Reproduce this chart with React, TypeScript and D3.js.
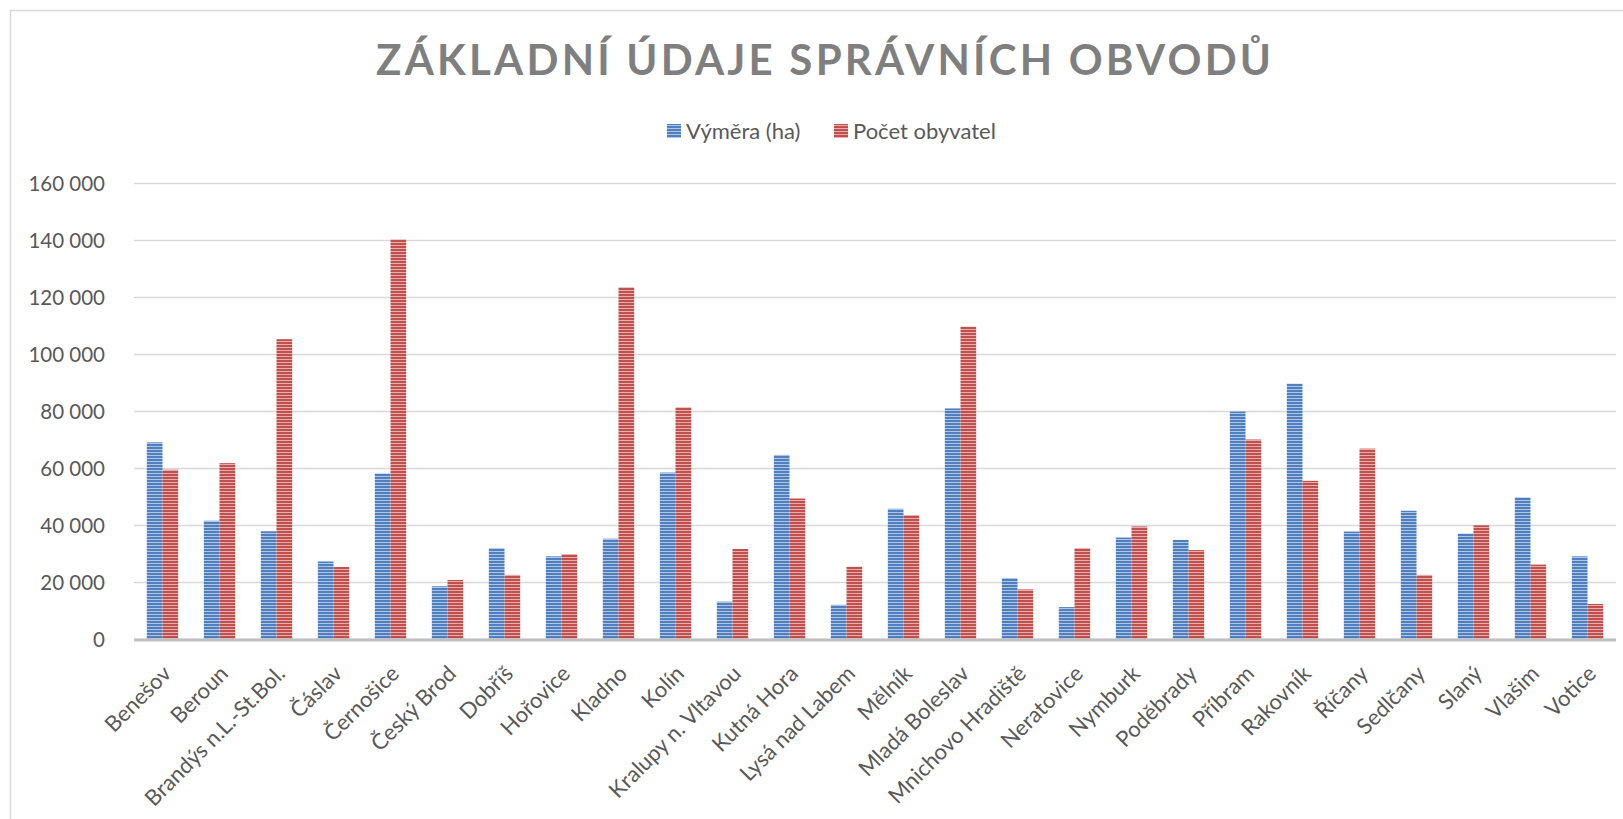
import React, { useRef, useEffect } from 'react';
import { select, scaleBand, scaleLinear, axisLeft, formatLocale } from 'd3';

const districts = [
  'Benešov', 'Beroun', 'Brandýs n.L.-St.Bol.', 'Čáslav', 'Černošice', 'Český Brod',
  'Dobříš', 'Hořovice', 'Kladno', 'Kolín', 'Kralupy n. Vltavou', 'Kutná Hora',
  'Lysá nad Labem', 'Mělník', 'Mladá Boleslav', 'Mnichovo Hradiště', 'Neratovice',
  'Nymburk', 'Poděbrady', 'Příbram', 'Rakovník', 'Říčany', 'Sedlčany', 'Slaný',
  'Vlašim', 'Votice',
];

const vymera = [
  69000, 41500, 37800, 27200, 58100, 18500, 31900, 29000, 35200, 58400, 13100, 64600,
  12000, 45700, 80900, 21400, 11200, 35600, 34800, 79800, 89600, 37700, 45000, 37000,
  49700, 29000,
];

const obyvatel = [
  59400, 61700, 105200, 25300, 140200, 20700, 22500, 29800, 123400, 81300, 31600, 49300,
  25400, 43500, 109600, 17400, 31900, 39500, 31200, 70000, 55500, 66800, 22500, 39900,
  26100, 12300,
];

const yTicks = [0, 20000, 40000, 60000, 80000, 100000, 120000, 140000, 160000];

const seriesNames = ['Výměra (ha)', 'Počet obyvatel'];

const W = 1623;
const H = 819;
const left = 134;
const right = 1616;
const top = 183;
const bottom = 639;
const font = 'Lato, "Open Sans", sans-serif';
const textColor = '#595959';

const fmt = formatLocale({ decimal: ',', thousands: ' ', grouping: [3], currency: ['', ''] }).format(',d');

export default function App() {
  const svgRef = useRef<SVGSVGElement>(null);

  useEffect(() => {
    const svg = select(svgRef.current);
    svg.selectAll('*').remove();

    const defs = svg.append('defs');
    const pats = [
      { id: 'pBlue', dark: '#4f7fbe', light: '#aec6e6' },
      { id: 'pRed', dark: '#c0504d', light: '#e8adab' },
    ];
    pats.forEach(p => {
      const pat = defs.append('pattern')
        .attr('id', p.id)
        .attr('patternUnits', 'userSpaceOnUse')
        .attr('width', 6)
        .attr('height', 3);
      pat.append('rect').attr('width', 6).attr('height', 3).attr('fill', p.dark);
      pat.append('rect').attr('y', 2).attr('width', 6).attr('height', 1).attr('fill', p.light);
    });

    // frame
    svg.append('rect')
      .attr('x', 10.5).attr('y', 10.5)
      .attr('width', W + 20).attr('height', H + 20)
      .attr('fill', 'white')
      .attr('stroke', '#d9d9d9')
      .attr('stroke-width', 1.5);

    // title
    svg.append('text')
      .attr('x', 376).attr('y', 75)
      .attr('textLength', 895)
      .attr('lengthAdjust', 'spacing')
      .attr('font-family', font)
      .attr('font-weight', 700)
      .attr('font-size', 42)
      .attr('fill', '#7f7f7f')
      .text('ZÁKLADNÍ ÚDAJE SPRÁVNÍCH OBVODŮ');

    // legend
    const legendX = [667, 834];
    seriesNames.forEach((name, i) => {
      svg.append('rect')
        .attr('x', legendX[i]).attr('y', 124)
        .attr('width', 14).attr('height', 14)
        .attr('fill', i === 0 ? 'url(#pBlue)' : 'url(#pRed)');
      svg.append('text')
        .attr('x', legendX[i] + 19).attr('y', 139)
        .attr('font-family', font)
        .attr('font-size', 22)
        .attr('fill', textColor)
        .text(name);
    });

    const x = scaleBand<string>()
      .domain(districts)
      .range([left, right])
      .paddingInner(0.45)
      .paddingOuter(0.225);

    const xs = scaleBand<number>()
      .domain([0, 1])
      .range([0, x.bandwidth()]);

    const y = scaleLinear().domain([0, 160000]).range([bottom, top]);

    // grid + y labels
    const yAxis = axisLeft(y)
      .tickValues(yTicks)
      .tickFormat(d => fmt(d as number))
      .tickSize(-(right - left))
      .tickPadding(29);

    const ga = svg.append('g')
      .attr('transform', `translate(${left},0)`)
      .call(yAxis);
    ga.select('.domain').remove();
    ga.selectAll('.tick line')
      .attr('stroke', '#d9d9d9')
      .attr('stroke-width', 1.5);
    ga.selectAll('.tick text')
      .attr('font-family', font)
      .attr('font-size', 20.5)
      .attr('fill', textColor)
      .attr('dy', '0.35em');

    // bars
    const series = [vymera, obyvatel];
    series.forEach((vals, s) => {
      svg.append('g')
        .selectAll('rect')
        .data(districts)
        .join('rect')
        .attr('x', d => (x(d) as number) + (xs(s) as number))
        .attr('y', (d, i) => y(vals[i]))
        .attr('width', xs.bandwidth())
        .attr('height', (d, i) => bottom - y(vals[i]))
        .attr('fill', s === 0 ? 'url(#pBlue)' : 'url(#pRed)');
    });

    // x axis line
    svg.append('line')
      .attr('x1', left).attr('x2', right)
      .attr('y1', bottom + 1).attr('y2', bottom + 1)
      .attr('stroke', '#bfbfbf')
      .attr('stroke-width', 3);

    // category labels
    svg.append('g')
      .selectAll('text')
      .data(districts)
      .join('text')
      .attr('transform', d => `translate(${(x(d) as number) + x.bandwidth() / 2 + 10},${bottom + 36}) rotate(-45)`)
      .attr('text-anchor', 'end')
      .attr('font-family', font)
      .attr('font-size', 22)
      .attr('fill', textColor)
      .text(d => d);
  }, []);

  return (
    <div style={{ position: 'fixed', left: 0, top: 0, width: W, height: H, background: 'white' }}>
      <svg ref={svgRef} width={W} height={H} />
    </div>
  );
}
